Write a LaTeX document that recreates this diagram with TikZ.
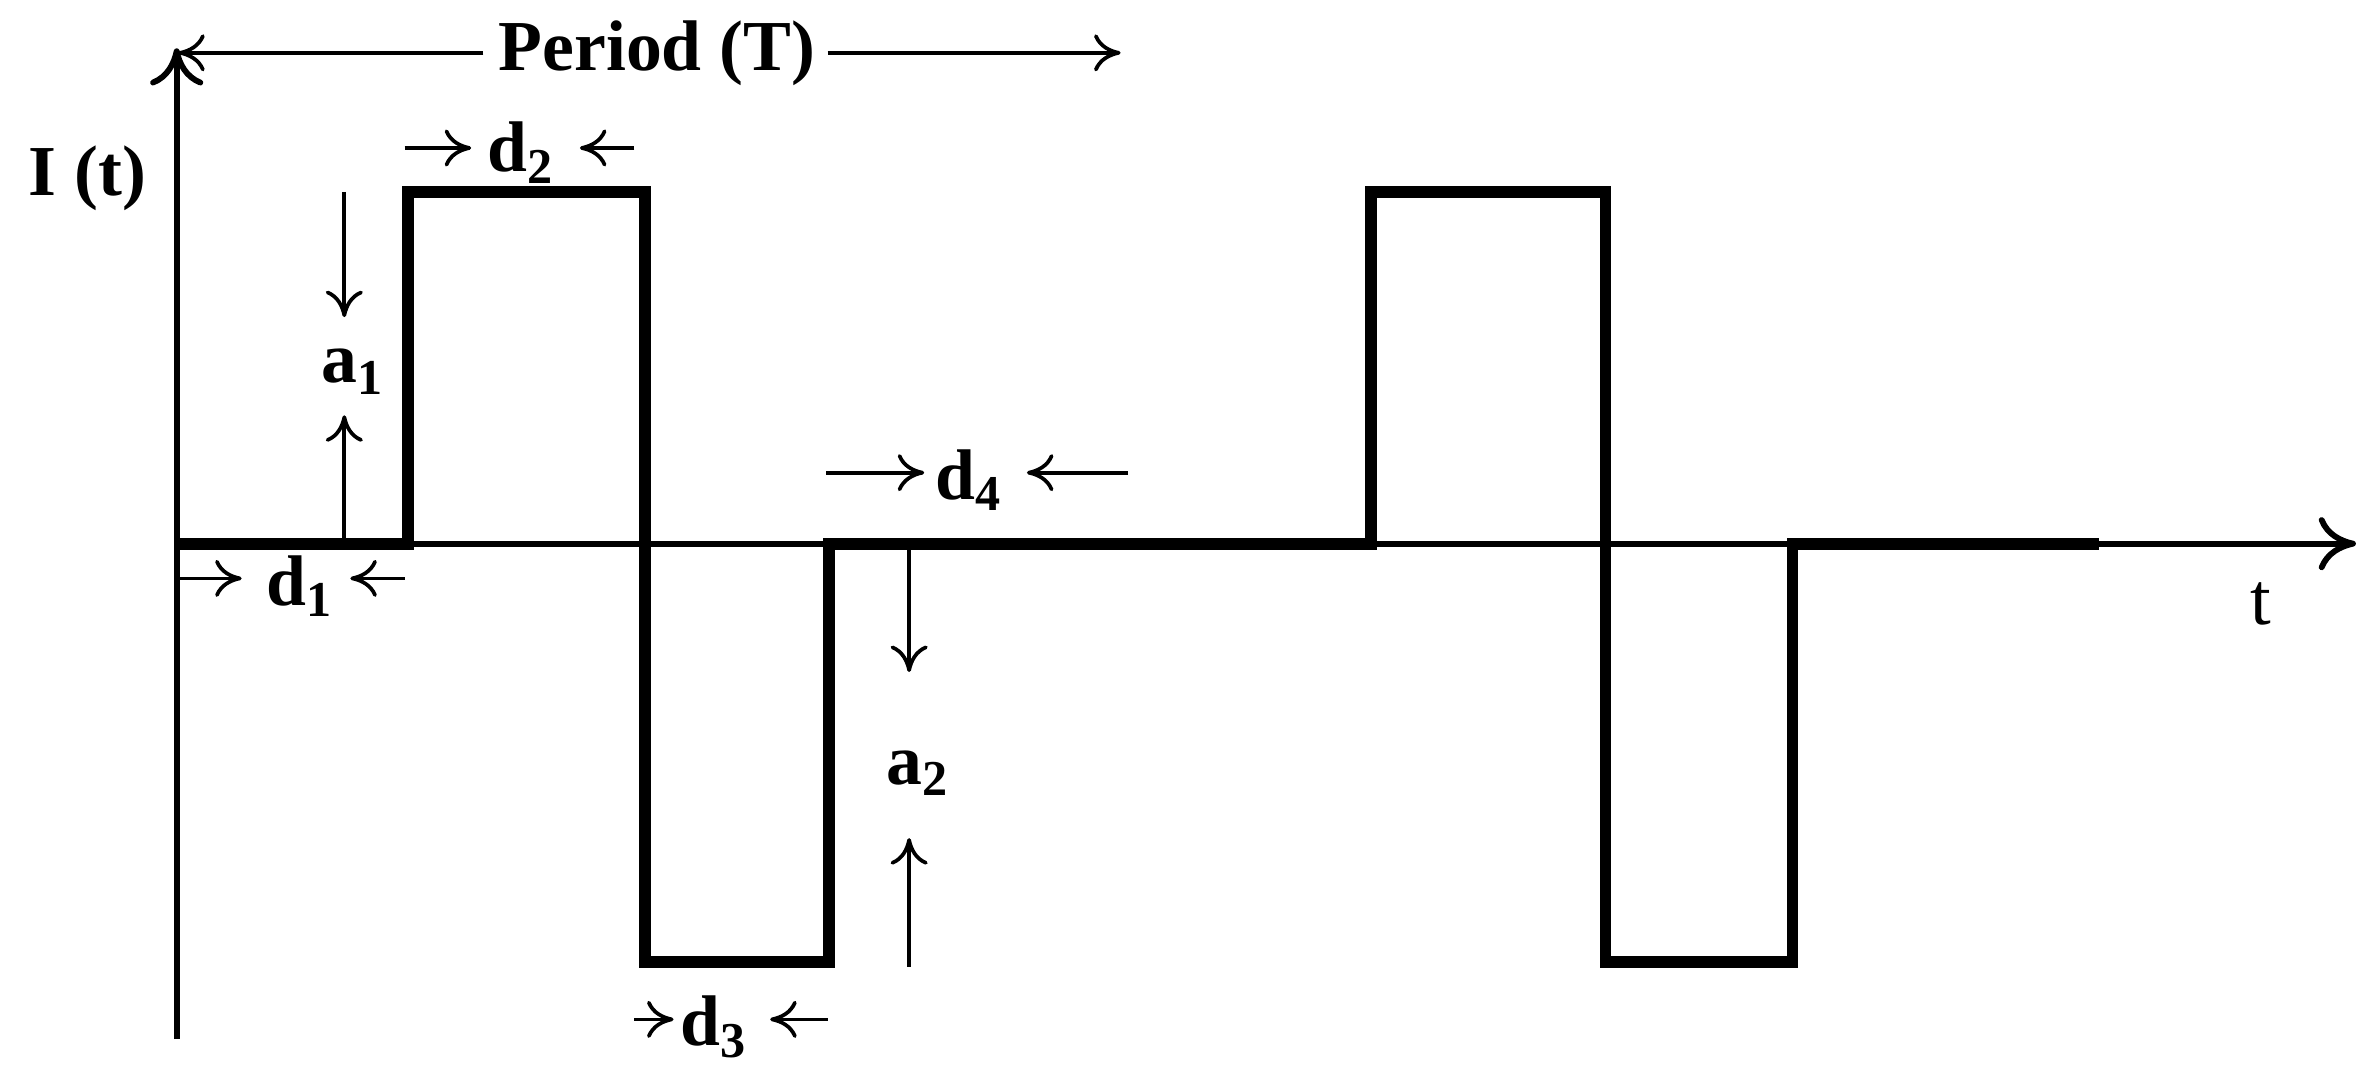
\documentclass[tikz,border=0pt]{standalone}
\usepackage{fontspec}
\setmainfont{Liberation Serif}
\usetikzlibrary{arrows.meta}
\begin{document}
\begin{tikzpicture}[x=0.01cm,y=-0.01cm,
  thinl/.style={line width=1.1pt},
  thickl/.style={line width=2.2pt,line join=miter},
  arr/.style={line width=0.7pt,-{To[length=5pt,width=7pt]}},
  lab/.style={font=\fontsize{13.5}{15}\selectfont\bfseries,inner sep=0pt}]
\useasboundingbox (0,0) rectangle (1568,710);
% axes
\coordinate (o) at (117,360);
\coordinate (ytop) at (117,32);
\coordinate (ybot) at (117,688);
\coordinate (xend) at (1560,360);
\draw[thinl,-{To[length=7pt,width=10pt]}] (ybot) -- (ytop);
\draw[thinl,-{To[length=7pt,width=10pt]}] (o) -- (xend);
% waveform
\draw[thickl] (117,360) -- (270,360) -- (270,127) -- (427,127) -- (427,637) -- (549,637) -- (549,360) -- (908,360) -- (908,127) -- (1063,127) -- (1063,637) -- (1187,637) -- (1187,360) -- (1390,360);
% labels
\node[lab] (I) at (58,118) {I (t)};
\node[font=\fontsize{14}{15}\selectfont,inner sep=0pt] (t) at (1497,400) {t};
\node[lab] (P) at (435,35) {Period (T)};
\coordinate (pl) at (320,35); \coordinate (ple) at (118,35);
\coordinate (pr) at (548,35); \coordinate (pre) at (742,35);
\draw[arr] (pl) -- (ple);
\draw[arr] (pr) -- (pre);
% d2
\node[lab] (d2) at (345,101) {d\textsubscript{2}};
\coordinate (d2a) at (268,98); \coordinate (d2b) at (312,98);
\coordinate (d2c) at (420,98); \coordinate (d2d) at (384,98);
\draw[arr] (d2a) -- (d2b); \draw[arr] (d2c) -- (d2d);
% a1
\node[lab] (a1) at (234,246) {a\textsubscript{1}};
\coordinate (a1a) at (228,127); \coordinate (a1b) at (228,210);
\coordinate (a1c) at (228,360); \coordinate (a1d) at (228,275);
\draw[arr] (a1a) -- (a1b); \draw[arr] (a1c) -- (a1d);
% d1
\node[lab] (d1) at (199,388) {d\textsubscript{1}};
\coordinate (d1a) at (118,383); \coordinate (d1b) at (160,383);
\coordinate (d1c) at (268,383); \coordinate (d1d) at (232,383);
\draw[arr] (d1a) -- (d1b); \draw[arr] (d1c) -- (d1d);
% d4
\node[lab] (d4) at (642,318) {d\textsubscript{4}};
\coordinate (d4a) at (547,313); \coordinate (d4b) at (612,313);
\coordinate (d4c) at (747,313); \coordinate (d4d) at (680,313);
\draw[arr] (d4a) -- (d4b); \draw[arr] (d4c) -- (d4d);
% a2
\node[lab] (a2) at (608,512) {a\textsubscript{2}};
\coordinate (a2a) at (602,364); \coordinate (a2b) at (602,445);
\coordinate (a2c) at (602,640); \coordinate (a2d) at (602,555);
\draw[arr] (a2a) -- (a2b); \draw[arr] (a2c) -- (a2d);
% d3
\node[lab] (d3) at (473,680) {d\textsubscript{3}};
\coordinate (d3a) at (420,675); \coordinate (d3b) at (446,675);
\coordinate (d3c) at (548,675); \coordinate (d3d) at (510,675);
\draw[arr] (d3a) -- (d3b); \draw[arr] (d3c) -- (d3d);
\end{tikzpicture}
\end{document}
